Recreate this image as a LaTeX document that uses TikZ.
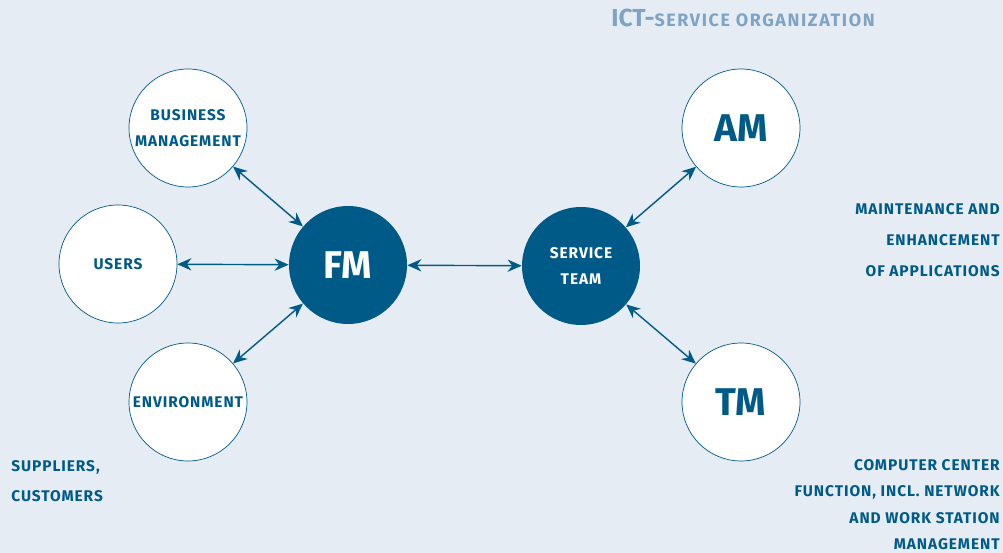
\documentclass[tikz,border=0pt]{standalone}
\usepackage{fontspec}
\setmainfont{Fira Sans}
\newfontfamily\spaced[LetterSpace=6]{Fira Sans}
\newfontfamily\wide[LetterSpace=9]{Fira Sans}
\usetikzlibrary{arrows.meta}
\definecolor{ictblue}{HTML}{005A87}
\definecolor{ictlight}{HTML}{7FA3C4}
\definecolor{ictback}{HTML}{E6ECF3}
\begin{document}
\begin{tikzpicture}[x=0.02cm, y=-0.02cm,
    outer/.style={circle, draw=ictblue, fill=white, minimum size=2.36cm, inner sep=0pt,
      text=ictblue, font=\spaced\bfseries\fontsize{8.8}{14.7}\selectfont, align=center},
    inner/.style={circle, fill=ictblue, minimum size=2.36cm, inner sep=0pt,
      text=white, font=\spaced\bfseries\fontsize{8.8}{14.7}\selectfont, align=center},
    big/.style={font=\bfseries\fontsize{22}{22}\selectfont},
    note/.style={text=ictblue, font=\spaced\bfseries\fontsize{8.8}{15}\selectfont, inner sep=0pt},
    link/.style={ictblue, thick, {Stealth[length=8pt,width=7pt]}-{Stealth[length=8pt,width=7pt]}}]
    \fill[ictback] (0, 0) rectangle (1003, 553);

    % left side
    \node[outer] (bm) at (188, 128) {BUSINESS\\MANAGEMENT};
    \node[outer] (users) at (118, 264) {USERS};
    \node[outer] (env) at (188, 402) {ENVIRONMENT};
    \node[inner, big] (fm) at (348, 265) {FM};

    % right side
    \node[inner] (team) at (581, 266) {SERVICE\\TEAM};
    \node[outer, big] (am) at (741, 128) {AM};
    \node[outer, big] (tm) at (741, 402) {TM};

    \node[text=ictlight, font=\bfseries, inner sep=0pt] (title) at (743, 18)
      {{\fontsize{14}{14}\selectfont ICT-}{\wide\bfseries\fontsize{10.2}{12}\selectfont SERVICE ORGANIZATION}};

    \node[note, align=left, anchor=north west] (supp) at (11, 460)
      {SUPPLIERS,\\[2pt]CUSTOMERS};
    \node[note, align=right, anchor=north east, font=\spaced\bfseries\fontsize{8.8}{17.6}\selectfont] (maint) at (1000, 203)
      {MAINTENANCE AND\\ENHANCEMENT\\OF APPLICATIONS};
    \node[note, align=right, anchor=north east] (comp) at (1000, 459)
      {COMPUTER CENTER\\FUNCTION, INCL. NETWORK\\AND WORK STATION\\MANAGEMENT};

    \draw[link] (bm) -- (fm);
    \draw[link] (users) -- (fm);
    \draw[link] (env) -- (fm);
    \draw[link] (fm) -- (team);
    \draw[link] (team) -- (am);
    \draw[link] (team) -- (tm);
\end{tikzpicture}
\end{document}
